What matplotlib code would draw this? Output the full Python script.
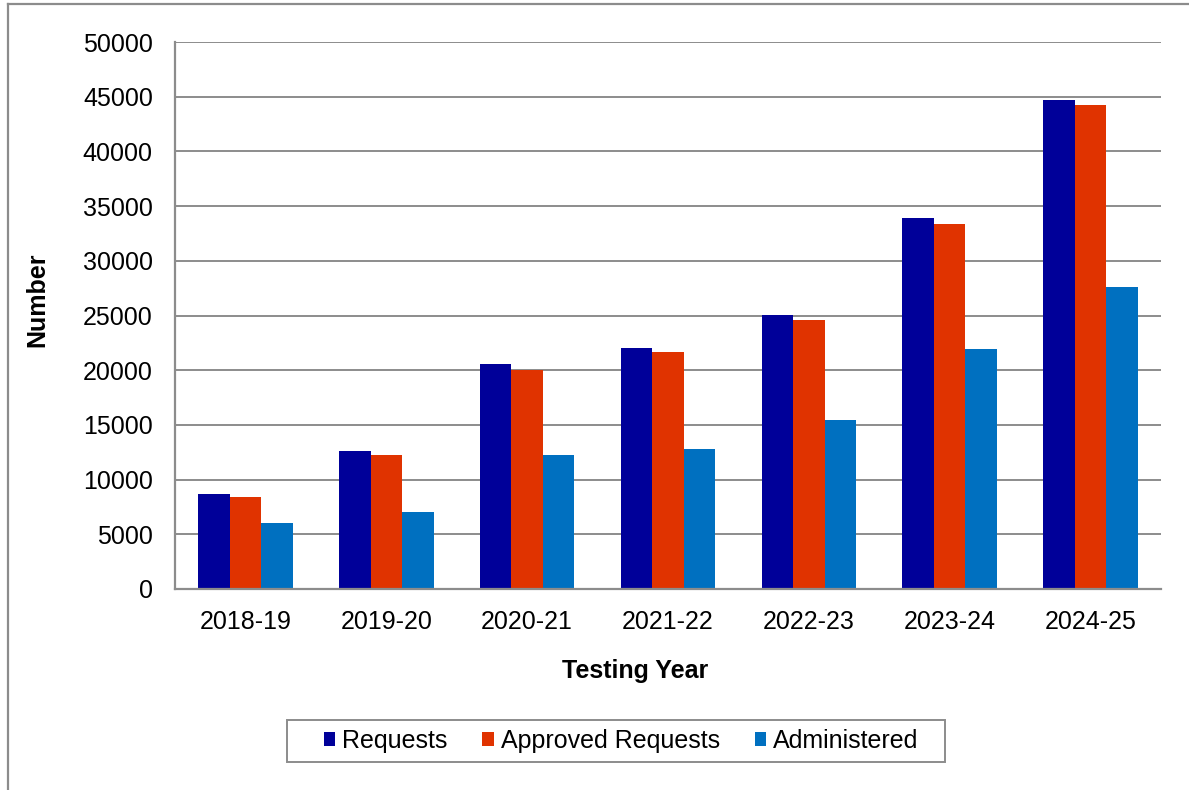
import matplotlib
matplotlib.use("Agg")
import matplotlib.pyplot as plt
import numpy as np

# Testing years and counts per series
years = ["2018-19", "2019-20", "2020-21", "2021-22", "2022-23", "2023-24", "2024-25"]
requests = [8650, 12640, 20570, 22000, 25060, 33940, 44670]
approved = [8380, 12250, 20020, 21690, 24560, 33340, 44210]
administered = [6060, 7070, 12220, 12770, 15420, 21910, 27630]

series_names = ["Requests", "Approved Requests", "Administered"]
colors = ["#000099", "#E03300", "#0070C0"]
yticks = [0, 5000, 10000, 15000, 20000, 25000, 30000, 35000, 40000, 45000, 50000]

plt.rcParams["font.family"] = ["Liberation Sans", "DejaVu Sans"]

W, H = 1189, 790
fig = plt.figure(figsize=(W / 100, H / 100), dpi=100)
fig.patch.set_facecolor("white")

# plot area in pixel coordinates
left, right, top, bottom = 175, 1161, 42, 589
ax = fig.add_axes([left / W, 1 - bottom / H, (right - left) / W, (bottom - top) / H])

x = np.arange(len(years))
bw = 0.224
for i, (vals, name, c) in enumerate(zip([requests, approved, administered], series_names, colors)):
    ax.bar(x + (i - 1) * bw, vals, width=bw, color=c, label=name,
           edgecolor="none", zorder=3)

ax.set_xlim(-0.5, len(years) - 0.5)
ax.set_ylim(0, 50000)
ax.set_yticks(yticks)
ax.set_yticklabels([str(t) for t in yticks])
ax.set_xticks(x)
ax.set_xticklabels(years)
ax.tick_params(axis="both", length=0, labelsize=18, colors="black")
ax.tick_params(axis="y", pad=16)
ax.tick_params(axis="x", pad=15)

grid_c = "#8c8c8c"
ax.yaxis.grid(True, color=grid_c, linewidth=1.4, zorder=0)
ax.set_axisbelow(True)
for s in ["top", "right"]:
    ax.spines[s].set_visible(False)
for s in ["left", "bottom"]:
    ax.spines[s].set_color(grid_c)
    ax.spines[s].set_linewidth(1.6)
    ax.spines[s].set_zorder(4)

# axis titles
fig.text(37 / W, 1 - 300 / H, "Number", rotation=90, fontsize=18, fontweight="bold",
         ha="center", va="center")
fig.text(635 / W, 1 - 671 / H, "Testing Year", fontsize=18, fontweight="bold",
         ha="center", va="center")

# legend entries, with a separate box drawn around them
leg = fig.legend(loc="center", bbox_to_anchor=(621 / W, 1 - 741 / H), ncol=3,
                 fontsize=18, frameon=False,
                 handlelength=0.45, handleheight=0.45, handletextpad=0.28,
                 columnspacing=1.4, borderpad=0, borderaxespad=0)
fig.add_artist(plt.Rectangle((287 / W, 1 - 762 / H), (945 - 287) / W, 42 / H,
                             transform=fig.transFigure, fill=False,
                             edgecolor=grid_c, linewidth=1.4))

# outer chart border
fig.add_artist(plt.Line2D([8 / W, 1], [1 - 4 / H, 1 - 4 / H], color=grid_c, linewidth=1.6,
                          transform=fig.transFigure))
fig.add_artist(plt.Line2D([8 / W, 8 / W], [0, 1 - 4 / H], color=grid_c, linewidth=1.6,
                          transform=fig.transFigure))

fig.savefig("out.png", dpi=100, facecolor="white")
